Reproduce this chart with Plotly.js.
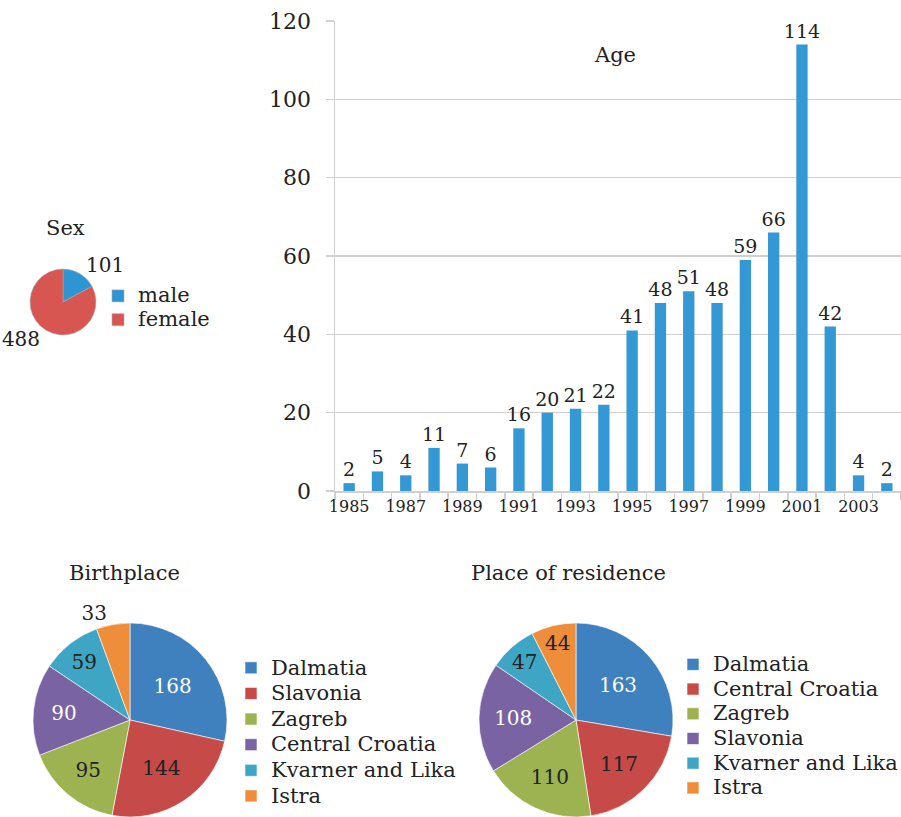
<!DOCTYPE html>
<html><head><meta charset="utf-8">
<script src="https://cdn.plot.ly/plotly-3.0.1.min.js"></script>
<style>html,body{margin:0;padding:0;background:#fff;overflow:hidden}#chart{width:901px;height:817px}</style>
</head><body><div id="chart"></div>
<script>
const years = [1985,1986,1987,1988,1989,1990,1991,1992,1993,1994,1995,1996,1997,1998,1999,2000,2001,2002,2003,2004];
const ageCounts = [2,5,4,11,7,6,16,20,21,22,41,48,51,48,59,66,114,42,4,2];
const yearTickLabels = [1985,1987,1989,1991,1993,1995,1997,1999,2001,2003];

const sexLabels = ['male','female'];
const sexValues = [101,488];

const birthLabels = ['Dalmatia','Slavonia','Zagreb','Central Croatia','Kvarner and Lika','Istra'];
const birthValues = [168,144,95,90,59,33];

const resLabels = ['Dalmatia','Central Croatia','Zagreb','Slavonia','Kvarner and Lika','Istra'];
const resValues = [163,117,110,108,47,44];

const FONT = 'DejaVu Serif, Liberation Serif, serif';
const TXT = '#222';
const GRID = '#d0d0d0';

const birthColors = ['#3f80bf','#c64a47','#9db250','#7a63a3','#3ea6c4','#ee8d3a'];
const resColors = ['#3f80bf','#c64a47','#9db250','#7a63a3','#3ea6c4','#ee8d3a'];
const birthTextColors = ['#fff',TXT,TXT,'#fff',TXT,TXT];
const resTextColors = ['#fff',TXT,TXT,'#fff',TXT,TXT];

const boundaries = years.map(y => y - 0.5).concat([years[years.length-1] + 0.5]);
// legend label display at larger size than the legend's line spacing font
const big = (s, px) => '<span style="font-size:' + px + 'px">' + s + '</span>';

const data = [
  {
    type:'bar', x: years, y: ageCounts, xaxis:'x', yaxis:'y',
    marker:{color:'#3398d3'},
    text: ageCounts.map(String), textposition:'outside', cliponaxis:false, constraintext:'none',
    textfont:{family:FONT, size:19, color:TXT},
    showlegend:false, hoverinfo:'x+y'
  },
  {
    type:'pie', labels: sexLabels.map(s => big(s, 21)), values: sexValues, sort:false, direction:'clockwise', rotation:0,
    domain:{x:[30/901, 96/901], y:[482/817, 548/817]},
    marker:{colors:['#2f95d2','#d75652'], line:{color:'#aaa', width:0.6}},
    textinfo:'value', textposition:'outside',
    textfont:{family:FONT, size:20, color:TXT},
    legend:'legend', legendgroup:'sex'
  },
  {
    type:'pie', labels: birthLabels.map(s => big(s, 21)), values: birthValues, sort:false, direction:'clockwise', rotation:0,
    domain:{x:[33/901, 227/901], y:[0, 194/817]},
    marker:{colors: birthColors, line:{color:'#fff', width:0.6}},
    textinfo:'value', textposition:['inside','inside','inside','inside','inside','outside'],
    insidetextorientation:'horizontal',
    textfont:{family:FONT, size:20, color: birthTextColors},
    outsidetextfont:{family:FONT, size:20, color:TXT},
    legend:'legend2', legendgroup:'birth'
  },
  {
    type:'pie', labels: resLabels.map(s => big(s, 21)), values: resValues, sort:false, direction:'clockwise', rotation:0,
    domain:{x:[479/901, 673/901], y:[0, 194/817]},
    marker:{colors: resColors, line:{color:'#fff', width:0.6}},
    textinfo:'value', textposition:'inside',
    insidetextorientation:'horizontal',
    textfont:{family:FONT, size:20, color: resTextColors},
    legend:'legend3', legendgroup:'res'
  }
];

const legendCommon = {bgcolor:'rgba(0,0,0,0)', xanchor:'left', yanchor:'top', tracegroupgap:0, itemclick:false, itemdoubleclick:false};

const layout = {
  width:901, height:817,
  margin:{l:0, r:0, t:0, b:0, autoexpand:false},
  paper_bgcolor:'#fff', plot_bgcolor:'#fff',
  font:{family:FONT, color:TXT},
  bargap:0.6,
  xaxis:{
    domain:[335/901, 1], anchor:'y',
    range:[years[0]-0.5, years[years.length-1]+0.5],
    tickmode:'array', tickvals: yearTickLabels, ticktext: yearTickLabels.map(String),
    ticks:'', showgrid:false, zeroline:false,
    showline:true, linecolor:GRID, linewidth:1.5,
    tickfont:{family:FONT, size:16, color:TXT},
    minor:{tickmode:'array', tickvals: boundaries, ticks:'outside', ticklen:7, tickcolor:GRID, tickwidth:1.5, showgrid:false}
  },
  yaxis:{
    domain:[326/817, 796/817], anchor:'x',
    range:[0,120], tickmode:'linear', tick0:0, dtick:20,
    showgrid:true, gridcolor:GRID, gridwidth:1.5, zeroline:false,
    showline:true, linecolor:GRID, linewidth:1.5,
    ticks:'outside', ticklen:8, tickcolor:GRID, tickwidth:1.5,
    tickfont:{family:FONT, size:22, color:TXT}, ticklabelstandoff:10
  },
  legend: Object.assign({}, legendCommon, {font:{family:FONT, size:16, color:TXT}, x:98/901, y:(817-279)/817}),
  legend2: Object.assign({}, legendCommon, {font:{family:FONT, size:17.4, color:TXT}, x:231/901, y:(817-650)/817}),
  legend3: Object.assign({}, legendCommon, {font:{family:FONT, size:16.7, color:TXT}, x:673/901, y:(817-647)/817}),
  annotations:[
    {text:'Age', xref:'paper', yref:'paper', x:615/901, y:(817-55)/817, xanchor:'center', yanchor:'middle', showarrow:false, font:{family:FONT, size:21, color:TXT}},
    {text:'Sex', xref:'paper', yref:'paper', x:65/901, y:(817-228)/817, xanchor:'center', yanchor:'middle', showarrow:false, font:{family:FONT, size:21, color:TXT}},
    {text:'Birthplace', xref:'paper', yref:'paper', x:125/901, y:(817-573)/817, xanchor:'center', yanchor:'middle', showarrow:false, font:{family:FONT, size:21, color:TXT}},
    {text:'Place of residence', xref:'paper', yref:'paper', x:568/901, y:(817-573)/817, xanchor:'center', yanchor:'middle', showarrow:false, font:{family:FONT, size:21, color:TXT}}
  ]
};

Plotly.newPlot('chart', data, layout, {displayModeBar:false, staticPlot:true});
</script></body></html>
